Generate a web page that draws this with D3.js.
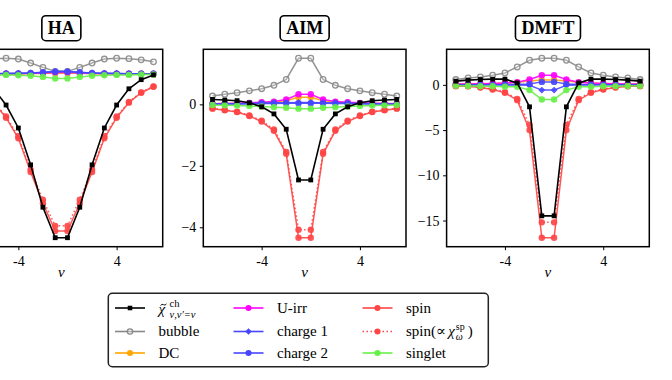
<!DOCTYPE html>
<html>
<head>
<meta charset="utf-8">
<script src="https://cdn.jsdelivr.net/npm/d3@7"></script>
<style>
  body { margin: 0; background: #fff; }
  svg { display: block; font-family: "Liberation Serif", "DejaVu Serif", serif; }
</style>
</head>
<body>
<div id="vis"></div>
<script>
const width = 672;
const height = 380;

// Matsubara index n (nu_n = (2n+1) pi T), same for all panels
const nu = [-8, -7, -6, -5, -4, -3, -2, -1, 0, 1, 2, 3, 4, 5, 6, 7];
const panelNames = ["HA", "AIM", "DMFT"];
const xTicks = [-4, 4];
const yTicks = [[], [0, -2, -4], [0, -5, -10, -15]];

// HA
const haChi     = [-0.03, -0.15, -0.38, -0.79, -1.37, -2.30, -3.37, -4.14, -4.14, -3.37, -2.30, -1.37, -0.79, -0.38, -0.15, -0.03];
const haBubble  = [0.30, 0.35, 0.38, 0.39, 0.37, 0.27, 0.16, 0.06, 0.06, 0.16, 0.27, 0.37, 0.39, 0.38, 0.35, 0.30];
const haDC      = [0.00, 0.00, 0.00, 0.00, 0.00, 0.00, 0.01, 0.01, 0.01, 0.01, 0.00, 0.00, 0.00, 0.00, 0.00, 0.00];
const haUirr    = [0.00, 0.00, 0.00, 0.00, 0.00, 0.01, 0.02, 0.03, 0.03, 0.02, 0.01, 0.00, 0.00, 0.00, 0.00, 0.00];
const haCharge1 = [0.00, 0.00, 0.00, 0.01, 0.01, 0.02, 0.04, 0.06, 0.06, 0.04, 0.02, 0.01, 0.01, 0.00, 0.00, 0.00];
const haCharge2 = [0.00, 0.00, 0.00, 0.00, 0.01, 0.02, 0.03, 0.05, 0.05, 0.03, 0.02, 0.01, 0.00, 0.00, 0.00, 0.00];
const haSpin    = [-0.33, -0.48, -0.73, -1.11, -1.63, -2.48, -3.27, -3.97, -3.97, -3.27, -2.48, -1.63, -1.11, -0.73, -0.48, -0.33];
const haSpinChi = [-0.32, -0.47, -0.71, -1.08, -1.58, -2.42, -3.18, -3.84, -3.84, -3.18, -2.42, -1.58, -1.08, -0.71, -0.47, -0.32];
const haSinglet = [-0.02, -0.02, -0.03, -0.03, -0.04, -0.05, -0.08, -0.12, -0.12, -0.08, -0.05, -0.04, -0.03, -0.03, -0.02, -0.02];

// AIM
const aimChi     = [0.16, 0.14, 0.12, 0.05, -0.08, -0.31, -0.81, -2.46, -2.46, -0.81, -0.31, -0.08, 0.05, 0.12, 0.14, 0.16];
const aimBubble  = [0.27, 0.33, 0.38, 0.44, 0.51, 0.62, 0.81, 1.50, 1.50, 0.81, 0.62, 0.51, 0.44, 0.38, 0.33, 0.27];
const aimDC      = [0.02, 0.03, 0.03, 0.04, 0.06, 0.08, 0.12, 0.23, 0.23, 0.12, 0.08, 0.06, 0.04, 0.03, 0.03, 0.02];
const aimUirr    = [0.02, 0.03, 0.04, 0.05, 0.07, 0.09, 0.16, 0.33, 0.33, 0.16, 0.09, 0.07, 0.05, 0.04, 0.03, 0.02];
const aimCharge1 = [0.00, 0.01, 0.02, 0.03, 0.04, 0.05, 0.05, 0.06, 0.06, 0.05, 0.05, 0.04, 0.03, 0.02, 0.01, 0.00];
const aimCharge2 = [0.00, 0.01, 0.01, 0.02, 0.03, 0.03, 0.04, 0.04, 0.04, 0.04, 0.03, 0.03, 0.02, 0.01, 0.01, 0.00];
const aimSpin    = [-0.14, -0.19, -0.25, -0.38, -0.56, -0.86, -1.61, -4.34, -4.34, -1.61, -0.86, -0.56, -0.38, -0.25, -0.19, -0.14];
const aimSpinChi = [-0.13, -0.18, -0.24, -0.36, -0.53, -0.82, -1.55, -4.08, -4.08, -1.55, -0.82, -0.53, -0.36, -0.24, -0.18, -0.13];
const aimSinglet = [-0.02, -0.03, -0.04, -0.05, -0.07, -0.09, -0.11, -0.14, -0.14, -0.11, -0.09, -0.07, -0.05, -0.04, -0.03, -0.02];

// DMFT
const dmftChi     = [0.41, 0.52, 0.59, 0.63, 0.63, 0.22, -2.43, -14.48, -14.48, -2.43, 0.22, 0.63, 0.63, 0.59, 0.52, 0.41];
const dmftBubble  = [0.59, 0.77, 0.88, 1.07, 1.32, 1.98, 2.72, 2.94, 2.94, 2.72, 1.98, 1.32, 1.07, 0.88, 0.77, 0.59];
const dmftDC      = [0.10, 0.10, 0.12, 0.15, 0.20, 0.28, 0.42, 0.55, 0.55, 0.42, 0.28, 0.20, 0.15, 0.12, 0.10, 0.10];
const dmftUirr    = [0.10, 0.10, 0.12, 0.15, 0.20, 0.30, 0.60, 1.07, 1.07, 0.60, 0.30, 0.20, 0.15, 0.12, 0.10, 0.10];
const dmftCharge1 = [0.00, 0.00, 0.00, 0.00, 0.00, -0.02, -0.05, -0.58, -0.58, -0.05, -0.02, 0.00, 0.00, 0.00, 0.00, 0.00];
const dmftCharge2 = [0.00, 0.00, 0.00, 0.00, 0.02, 0.05, 0.10, 0.33, 0.33, 0.10, 0.05, 0.02, 0.00, 0.00, 0.00, 0.00];
const dmftSpin    = [-0.14, -0.16, -0.29, -0.51, -0.88, -1.69, -5.00, -16.90, -16.90, -5.00, -1.69, -0.88, -0.51, -0.29, -0.16, -0.14];
const dmftSpinChi = [-0.12, -0.14, -0.26, -0.46, -0.80, -1.55, -4.44, -15.20, -15.20, -4.44, -1.55, -0.80, -0.46, -0.26, -0.14, -0.12];
const dmftSinglet = [-0.10, -0.12, -0.14, -0.16, -0.20, -0.22, -0.58, -1.61, -1.61, -0.58, -0.22, -0.20, -0.16, -0.14, -0.12, -0.10];

// series styles, in drawing order (chi drawn last, on top)
const series = [
  { key: "bubble",  color: "#888888", marker: "open",    dash: null },
  { key: "dc",      color: "#ffa500", marker: "circle",  dash: null },
  { key: "uirr",    color: "#ff00ff", marker: "circle",  dash: null },
  { key: "charge1", color: "#4646ff", marker: "diamond", dash: null },
  { key: "charge2", color: "#4646ff", marker: "circle",  dash: null },
  { key: "spin",    color: "#ff4545", marker: "circle",  dash: null },
  { key: "spinChi", color: "#ff4545", marker: "circle",  dash: "1.5,2.5" },
  { key: "singlet", color: "#66f046", marker: "circle",  dash: null },
  { key: "chi",     color: "#000000", marker: "square",  dash: null }
];

const panelData = [
  { chi: haChi, bubble: haBubble, dc: haDC, uirr: haUirr, charge1: haCharge1, charge2: haCharge2, spin: haSpin, spinChi: haSpinChi, singlet: haSinglet },
  { chi: aimChi, bubble: aimBubble, dc: aimDC, uirr: aimUirr, charge1: aimCharge1, charge2: aimCharge2, spin: aimSpin, spinChi: aimSpinChi, singlet: aimSinglet },
  { chi: dmftChi, bubble: dmftBubble, dc: dmftDC, uirr: dmftUirr, charge1: dmftCharge1, charge2: dmftCharge2, spin: dmftSpin, spinChi: dmftSpinChi, singlet: dmftSinglet }
];

// layout (the left panel is cut by the picture edge)
const firstLeft = -40, panelStep = 243.3, panelW = 202.7;
const panelTop = 49.3, panelBottom = 246.7;

const svg = d3.select("#vis").append("svg")
  .attr("width", width).attr("height", height)
  .attr("font-family", "Liberation Serif, DejaVu Serif, serif");

// matplotlib style 5% margins
function padded(ext) {
  const p = (ext[1] - ext[0]) * 0.05;
  return [ext[0] - p, ext[1] + p];
}

function drawMarker(g, type, color, cx, cy, s) {
  s = s || 1;
  if (type === "square") {
    g.append("rect").attr("x", cx - 2.4 * s).attr("y", cy - 2.4 * s)
      .attr("width", 4.8 * s).attr("height", 4.8 * s).attr("fill", color);
  } else if (type === "diamond") {
    g.append("path").attr("transform", `translate(${cx},${cy}) rotate(45)`)
      .attr("d", d3.symbol(d3.symbolSquare, 24 * s * s)()).attr("fill", color);
  } else if (type === "open") {
    g.append("circle").attr("cx", cx).attr("cy", cy).attr("r", 2.8 * s)
      .attr("fill", "#ffffff").attr("fill-opacity", 0.3).attr("stroke", color).attr("stroke-width", 1.3);
  } else {
    g.append("circle").attr("cx", cx).attr("cy", cy).attr("r", 3.2 * s).attr("fill", color);
  }
}

panelNames.forEach((name, i) => {
  const d = panelData[i];
  const left = firstLeft + i * panelStep;
  const x = d3.scaleLinear().domain(padded(d3.extent(nu))).range([left, left + panelW]);
  const all = series.flatMap(s => d[s.key]);
  const y = d3.scaleLinear().domain(padded(d3.extent(all))).range([panelBottom, panelTop]);

  const g = svg.append("g");

  // axes
  const xAxis = g.append("g").attr("transform", `translate(0,${panelBottom})`)
    .call(d3.axisBottom(x).tickValues(xTicks).tickSize(3.5).tickPadding(5.5)
      .tickFormat(v => v < 0 ? "-" + Math.abs(v) : String(v)));
  const yAxis = g.append("g").attr("transform", `translate(${left},0)`)
    .call(d3.axisLeft(y).tickValues(yTicks[i]).tickSize(3.5).tickPadding(3.5)
      .tickFormat(v => v < 0 ? "\u2212" + Math.abs(v) : String(v)));
  [xAxis, yAxis].forEach(a => {
    a.attr("font-family", null);
    a.select(".domain").remove();
    a.selectAll("line").attr("stroke", "#000").attr("stroke-width", 1);
    a.selectAll("text").attr("fill", "#000").attr("font-size", 14);
  });

  g.append("text").attr("x", left + panelW / 2).attr("y", 277)
    .attr("text-anchor", "middle").attr("font-size", 15).attr("font-style", "italic")
    .text("\u03bd");

  // lines + markers
  series.forEach(s => {
    const vals = d[s.key];
    const line = d3.line().x((v, k) => x(nu[k])).y(v => y(v));
    g.append("path").attr("d", line(vals)).attr("fill", "none")
      .attr("stroke", s.color).attr("stroke-width", s.key === "chi" ? 1.6 : 1.5)
      .attr("stroke-opacity", s.key === "chi" ? 1 : 0.9)
      .attr("stroke-dasharray", s.dash);
    const mg = g.append("g").attr("opacity", s.key === "chi" ? 1 : 0.9);
    vals.forEach((v, k) => drawMarker(mg, s.marker, s.color, x(nu[k]), y(v)));
  });

  // frame
  g.append("rect").attr("x", left).attr("y", panelTop)
    .attr("width", panelW).attr("height", panelBottom - panelTop)
    .attr("fill", "none").attr("stroke", "#000").attr("stroke-width", 1.5);

  // boxed title
  const cx = left + panelW / 2;
  const box = g.append("rect");
  const t = g.append("text").attr("x", cx).attr("y", 34)
    .attr("text-anchor", "middle").attr("font-size", 18).attr("font-weight", "bold")
    .text(name);
  const tw = t.node().getComputedTextLength();
  box.attr("x", cx - tw / 2 - 6).attr("y", 15.7).attr("width", tw + 12).attr("height", 25)
    .attr("rx", 4).attr("fill", "#fff").attr("stroke", "#000").attr("stroke-width", 1.6);
});

// legend
const legend = svg.append("g");
legend.append("rect").attr("x", 108.3).attr("y", 293.3).attr("width", 380).attr("height", 73.4)
  .attr("rx", 4).attr("fill", "#fff").attr("stroke", "#222").attr("stroke-width", 1.5);

const legendCols = [115, 233.5, 362.5];
const legendRows = [308, 331.5, 353];
const legendItems = [
  { key: "chi", col: 0, row: 0 }, { key: "bubble", col: 0, row: 1, label: "bubble" }, { key: "dc", col: 0, row: 2, label: "DC" },
  { key: "uirr", col: 1, row: 0, label: "U-irr" }, { key: "charge1", col: 1, row: 1, label: "charge 1" }, { key: "charge2", col: 1, row: 2, label: "charge 2" },
  { key: "spin", col: 2, row: 0, label: "spin" }, { key: "spinChi", col: 2, row: 1 }, { key: "singlet", col: 2, row: 2, label: "singlet" }
];

legendItems.forEach(it => {
  const s = series.find(q => q.key === it.key);
  const x0 = legendCols[it.col], yy = legendRows[it.row];
  legend.append("line").attr("x1", x0).attr("x2", x0 + 30).attr("y1", yy).attr("y2", yy)
    .attr("stroke", s.color).attr("stroke-width", 1.6).attr("stroke-dasharray", s.dash);
  drawMarker(legend, s.marker, s.color, x0 + 15, yy, 0.95);
  const tx = x0 + 43.5;
  if (it.label) {
    legend.append("text").attr("x", tx).attr("y", yy + 4.5).attr("font-size", 15).text(it.label);
  } else if (it.key === "chi") {
    legend.append("text").attr("x", tx).attr("y", yy + 6).attr("font-size", 15)
      .attr("font-style", "italic").text("\u03c7");
    // tilde accent over chi
    legend.append("path")
      .attr("d", `M${tx + 2},${yy - 2.5} q1.5,-2 3,-0.8 t3,-0.8`)
      .attr("fill", "none").attr("stroke", "#000").attr("stroke-width", 0.9);
    legend.append("text").attr("x", tx + 11).attr("y", yy - 1).attr("font-size", 10.5).text("ch");
    legend.append("text").attr("x", tx + 11).attr("y", yy + 9.5).attr("font-size", 10.5)
      .attr("font-style", "italic").text("\u03bd,\u03bd\u2032=\u03bd");
  } else {
    const a = legend.append("text").attr("x", tx).attr("y", yy + 4.5).attr("font-size", 15).text("spin(\u221d ");
    let px = tx + a.node().getComputedTextLength() + 2;
    const c = legend.append("text").attr("x", px).attr("y", yy + 4.5).attr("font-size", 15)
      .attr("font-style", "italic").text("\u03c7");
    px += c.node().getComputedTextLength() + 1;
    legend.append("text").attr("x", px).attr("y", yy - 1.5).attr("font-size", 10).text("sp");
    legend.append("text").attr("x", px).attr("y", yy + 8).attr("font-size", 10)
      .attr("font-style", "italic").text("\u03c9");
    legend.append("text").attr("x", px + 12).attr("y", yy + 4.5).attr("font-size", 15).text(")");
  }
});
</script>
</body>
</html>
